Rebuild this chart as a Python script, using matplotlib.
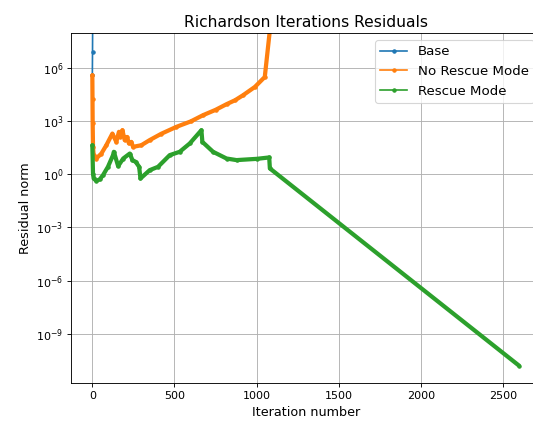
import matplotlib
matplotlib.use("Agg")
import matplotlib.pyplot as plt
from matplotlib.lines import Line2D
from matplotlib.ticker import NullLocator
import numpy as np

# values (iteration, log10 of residual norm)
base_it = [0, 1, 2, 3]
base_log = [5.61, 6.9, 8.5, 10.0]

norescue_it = [0, 1, 2, 4, 8, 24, 55, 85, 122, 146, 162, 170, 183, 197, 211, 223,
               237, 248, 298, 349, 420, 512, 600, 674, 750, 817, 870, 918, 990,
               1050, 1085, 1100]
norescue_log = [5.61, 4.25, 2.9, 1.56, 1.09, 0.9, 1.18, 1.65, 2.31, 1.84, 2.41, 2.12,
                2.5, 1.94, 2.12, 1.75, 1.84, 1.56, 1.65, 1.94, 2.3, 2.69, 3.0, 3.35,
                3.65, 3.97, 4.2, 4.48, 4.95, 5.51, 8.5, 11.0]

rescue_it = [0, 4, 8, 24, 45, 65, 95, 126, 131, 157, 188, 228, 244, 264, 285, 293,
             349, 400, 471, 532, 593, 664, 670, 735, 817, 878, 1000, 1077, 1081, 2598]
rescue_log = [1.65, 0.05, -0.23, -0.36, -0.28, -0.04, 0.43, 1.09, 1.28, 0.47, 0.9,
              1.18, 0.81, 0.71, 0.43, -0.23, 0.24, 0.43, 1.09, 1.28, 1.75, 2.5, 1.84,
              1.28, 0.9, 0.81, 0.88, 0.96, 0.34, -10.81]

labels = ["Base", "No Rescue Mode", "Rescue Mode"]
colors = ["#1f77b4", "#ff7f0e", "#2ca02c"]

fig = plt.figure(figsize=(533 / 80, 422 / 80), dpi=80)
ax = fig.add_axes([0.1332, 0.0917, 0.8812, 0.8294])

ax.plot(base_it, 10.0 ** np.array(base_log), '.-', color=colors[0], lw=1.5)
ax.plot(norescue_it, 10.0 ** np.array(norescue_log), '.-', color=colors[1], lw=3.8,
        solid_joinstyle='round', solid_capstyle='round')
ax.plot(rescue_it, 10.0 ** np.array(rescue_log), '.-', color=colors[2], lw=3.8,
        solid_joinstyle='round', solid_capstyle='round')

ax.set_yscale('log')
ax.set_xlim(-130, 2730)
ax.set_ylim(10 ** -11.81, 10 ** 7.98)
ax.set_xticks([0, 500, 1000, 1500, 2000, 2500])
ax.set_yticks([1e-9, 1e-6, 1e-3, 1e0, 1e3, 1e6])
ax.yaxis.set_minor_locator(NullLocator())
ax.tick_params(labelsize=10)
ax.grid(True, color='#b0b0b0', lw=0.8)

handles = [Line2D([], [], color=c, marker='.', lw=1.5) for c in colors]
ax.legend(handles, labels, loc='upper right', fontsize=12)

ax.set_title("Richardson Iterations Residuals", fontsize=14)
ax.set_xlabel("Iteration number", fontsize=11.5)
ax.set_ylabel("Residual norm", fontsize=11.5)

fig.savefig("out.png", dpi=80)
